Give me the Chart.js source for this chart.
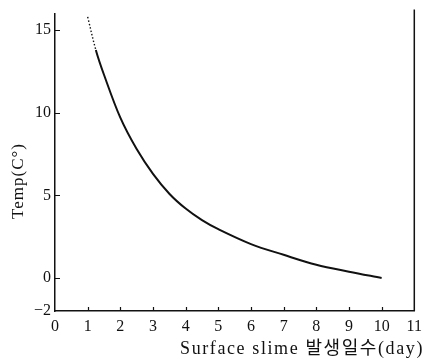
<!DOCTYPE html>
<html>
<head>
<meta charset="utf-8">
<script src="https://cdn.jsdelivr.net/npm/chart.js@4.4.1/dist/chart.umd.min.js"></script>
<style>
  html, body { margin: 0; padding: 0; background: #fff; }
  #wrap { width: 428px; height: 360px; }
</style>
</head>
<body>
<div id="wrap"><canvas id="c" width="428" height="360"></canvas></div>
<script>
// Days after surface slime appears, and the matching temperature
const days  = [1, 1.25, 1.5, 2, 2.5, 3, 3.5, 4, 4.5, 5, 6, 7, 8, 9, 10];
const temps = [15.8, 13.8, 12.3, 9.7, 7.8, 6.3, 5.1, 4.2, 3.5, 2.95, 2.05, 1.4, 0.8, 0.38, 0.0];

// Axis ticks
const xTicks = [0, 1, 2, 3, 4, 5, 6, 7, 8, 9, 10, 11];
const yTicks = [-2, 0, 5, 10, 15];

const xTitle = 'Surface slime 발생일수(day)';
const yTitle = 'Temp(C°)';

const serif = '"Liberation Serif", "DejaVu Serif", "Noto Sans CJK KR", serif';

// Inward tick marks, right frame line and axis titles
const frame = {
  id: 'frame',
  afterDraw(chart) {
    const { ctx, chartArea: a, scales: { x, y } } = chart;
    ctx.save();
    ctx.strokeStyle = '#111';
    ctx.lineWidth = 1.2;
    ctx.beginPath();
    xTicks.forEach(v => {
      if (v === 0 || v === 11) return;
      const px = Math.round(x.getPixelForValue(v)) + 0.5;
      ctx.moveTo(px, a.bottom);
      ctx.lineTo(px, a.bottom - 4);
    });
    yTicks.forEach(v => {
      if (v === -2) return;
      const py = Math.round(y.getPixelForValue(v)) + 0.5;
      ctx.moveTo(a.left, py);
      ctx.lineTo(a.left + 5, py);
    });
    ctx.stroke();

    // right frame line
    ctx.lineWidth = 1.5;
    ctx.beginPath();
    ctx.moveTo(a.right, a.top - 4);
    ctx.lineTo(a.right, a.bottom);
    ctx.stroke();

    // axis titles
    ctx.fillStyle = '#111';
    ctx.font = '18px ' + serif;
    ctx.textBaseline = 'middle';
    if ('letterSpacing' in ctx) ctx.letterSpacing = '1.6px';
    ctx.textAlign = 'right';
    ctx.fillText(xTitle, 424, 349);

    ctx.font = '17px ' + serif;
    if ('letterSpacing' in ctx) ctx.letterSpacing = '1px';
    ctx.translate(19, 181);
    ctx.rotate(-Math.PI / 2);
    ctx.textAlign = 'center';
    ctx.fillText(yTitle, 0, 0);
    ctx.restore();
  }
};

new Chart(document.getElementById('c'), {
  type: 'line',
  data: {
    datasets: [{
      data: days.map((d, i) => ({ x: d, y: temps[i] })),
      borderColor: '#111',
      borderWidth: 2,
      pointRadius: 0,
      tension: 0.35,
      segment: {
        borderDash: c => c.p0DataIndex === 0 ? [1.5, 2] : undefined,
        borderWidth: c => c.p0DataIndex === 0 ? 1.4 : 2
      }
    }]
  },
  options: {
    responsive: false,
    animation: false,
    devicePixelRatio: 1,
    layout: { padding: { left: 0, right: 6, top: 8, bottom: 0 } },
    plugins: { legend: { display: false }, tooltip: { enabled: false } },
    scales: {
      x: {
        type: 'linear',
        min: 0,
        max: 11,
        afterBuildTicks: s => { s.ticks = xTicks.map(v => ({ value: v })); },
        afterFit: s => { s.height = 49; },
        grid: { display: false, drawTicks: false },
        border: { display: true, color: '#111', width: 1.5 },
        ticks: {
          color: '#111',
          padding: 6,
          maxRotation: 0,
          autoSkip: false,
          font: { family: serif, size: 16 }
        }
      },
      y: {
        type: 'linear',
        min: -2,
        max: 16,
        afterBuildTicks: s => { s.ticks = yTicks.map(v => ({ value: v })); },
        afterFit: s => { s.width = 55; },
        grid: { display: false, drawTicks: false },
        border: { display: true, color: '#111', width: 1.5 },
        ticks: {
          color: '#111',
          padding: 4,
          autoSkip: false,
          font: { family: serif, size: 16 },
          callback: v => v < 0 ? '\u2212' + Math.abs(v) : String(v)
        }
      }
    }
  },
  plugins: [frame]
});
</script>
</body>
</html>
